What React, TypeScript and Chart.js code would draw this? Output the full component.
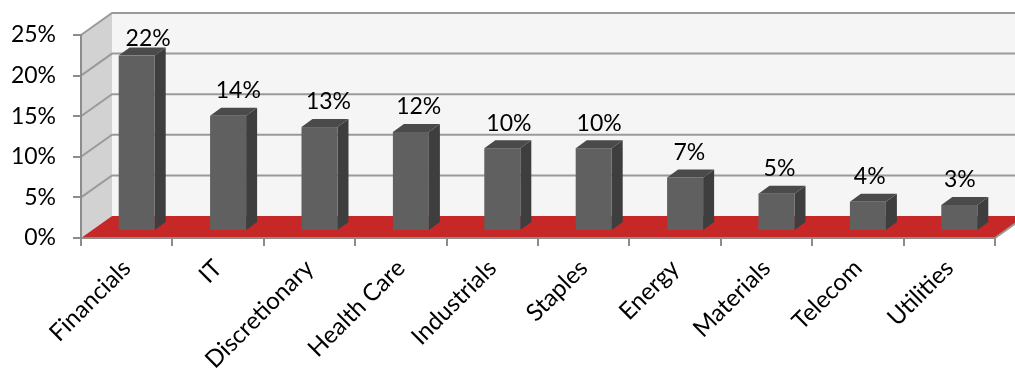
import React, { useEffect, useRef } from 'react';
import { Chart, registerables } from 'chart.js';

Chart.register(...registerables);

const categories = ['Financials', 'IT', 'Discretionary', 'Health Care', 'Industrials', 'Staples', 'Energy', 'Materials', 'Telecom', 'Utilities'];
const weights = [21.6, 14.2, 12.8, 12.2, 10.2, 10.2, 6.6, 4.6, 3.6, 3.2];
const yTicks = [0, 5, 10, 15, 20, 25];

const FONT = 'Lato, "Open Sans", sans-serif';
const DEPTH_X = 31;
const DEPTH_Y = -22;
const BAR_OFF_X = 10;
const BAR_OFF_Y = -7;
const BAR_DX = 11;
const BAR_DY = -8;

function poly(ctx: CanvasRenderingContext2D, pts: number[][], fill?: string) {
  ctx.beginPath();
  ctx.moveTo(pts[0][0], pts[0][1]);
  for (let i = 1; i < pts.length; i++) ctx.lineTo(pts[i][0], pts[i][1]);
  ctx.closePath();
  if (fill) {
    ctx.fillStyle = fill;
    ctx.fill();
  }
}

const wallsPlugin = {
  id: 'walls3d',
  beforeDraw(chart: any) {
    const { ctx, chartArea, scales } = chart;
    const ys = scales.y;
    const L = chartArea.left;
    const R = chartArea.right;
    const y0 = ys.getPixelForValue(yTicks[0]);
    const yMax = ys.getPixelForValue(yTicks[yTicks.length - 1]);
    ctx.save();
    // back wall
    ctx.fillStyle = '#f5f5f5';
    ctx.fillRect(L + DEPTH_X, yMax + DEPTH_Y, R - L, y0 - yMax);
    // side wall
    poly(ctx, [[L, y0], [L, yMax], [L + DEPTH_X, yMax + DEPTH_Y], [L + DEPTH_X, y0 + DEPTH_Y]], '#d2d2d2');
    // grid lines
    ctx.strokeStyle = '#9a9a9a';
    ctx.lineWidth = 2;
    yTicks.forEach((v) => {
      if (v === yTicks[0]) return;
      const yy = ys.getPixelForValue(v);
      ctx.beginPath();
      ctx.moveTo(L, yy);
      ctx.lineTo(L + DEPTH_X, yy + DEPTH_Y);
      ctx.lineTo(R + DEPTH_X, yy + DEPTH_Y);
      ctx.stroke();
    });
    // floor
    poly(ctx, [[L, y0], [L + DEPTH_X, y0 + DEPTH_Y], [R + DEPTH_X, y0 + DEPTH_Y], [R, y0]], '#c62828');
    ctx.beginPath();
    ctx.moveTo(R, y0);
    ctx.lineTo(R + DEPTH_X, y0 + DEPTH_Y);
    ctx.strokeStyle = '#9a9a9a';
    ctx.lineWidth = 2;
    ctx.stroke();
    ctx.restore();
  },
};

const barsPlugin = {
  id: 'bars3d',
  afterDatasetsDraw(chart: any) {
    const { ctx, chartArea } = chart;
    const meta = chart.getDatasetMeta(0);
    const ds = chart.data.datasets[0];
    ctx.save();
    meta.data.forEach((el: any, i: number) => {
      const p = el.getProps(['x', 'y', 'base', 'width'], true);
      const l = p.x - p.width / 2 + BAR_OFF_X;
      const r = p.x + p.width / 2 + BAR_OFF_X;
      const t = p.y + BAR_OFF_Y;
      const b = p.base + BAR_OFF_Y;
      poly(ctx, [[r, t], [r + BAR_DX, t + BAR_DY], [r + BAR_DX, b + BAR_DY], [r, b]], '#3e3e3e');
      poly(ctx, [[l, t], [r, t], [r + BAR_DX, t + BAR_DY], [l + BAR_DX, t + BAR_DY]], '#4a4a4a');
      ctx.fillStyle = '#606060';
      ctx.fillRect(l, t, r - l, b - t);
      // value label
      const frac = (p.x - chartArea.left) / (chartArea.right - chartArea.left);
      const lx = (l + r) / 2 + 12 * (1 - frac);
      const ly = Math.max(t - 25, chartArea.top + 4);
      ctx.fillStyle = '#000';
      ctx.font = `23px ${FONT}`;
      ctx.textAlign = 'center';
      ctx.textBaseline = 'middle';
      ctx.fillText(Math.round(ds.data[i]) + '%', lx, ly);
    });
    ctx.restore();
  },
};

export default function App() {
  const ref = useRef<HTMLCanvasElement>(null);
  useEffect(() => {
    if (!ref.current) return;
    const chart = new Chart(ref.current, {
      type: 'bar',
      data: {
        labels: categories,
        datasets: [
          {
            data: weights,
            backgroundColor: 'rgba(0,0,0,0)',
            borderWidth: 0,
            barPercentage: 0.394,
            categoryPercentage: 1,
          },
        ],
      },
      options: {
        responsive: false,
        animation: false,
        devicePixelRatio: 1,
        layout: { padding: { top: 35, right: 20, left: 0, bottom: 0 } },
        plugins: { legend: { display: false }, tooltip: { enabled: false } },
        scales: {
          x: {
            grid: { drawOnChartArea: false, tickLength: 8, color: '#8c8c8c', lineWidth: 2, offset: true },
            border: { color: '#8c8c8c', width: 2 },
            ticks: {
              font: { family: FONT, size: 24 },
              color: '#000',
              minRotation: 45,
              maxRotation: 45,
              autoSkip: false,
              padding: 8,
            },
            afterFit: (s: any) => {
              s.height = 135;
            },
          },
          y: {
            min: yTicks[0],
            max: yTicks[yTicks.length - 1],
            afterBuildTicks: (s: any) => {
              s.ticks = yTicks.map((v) => ({ value: v }));
            },
            ticks: {
              callback: (v: any) => v + '%',
              font: { family: FONT, size: 23 },
              color: '#000',
              padding: 17,
            },
            grid: { drawOnChartArea: false, tickLength: 8, color: '#8c8c8c', lineWidth: 2 },
            border: { color: '#8c8c8c', width: 2 },
            afterFit: (s: any) => {
              s.width = 81;
            },
          },
        },
      },
      plugins: [wallsPlugin, barsPlugin],
    });
    return () => chart.destroy();
  }, []);
  return (
    <div style={{ position: 'absolute', left: 0, top: 0, width: 1015, height: 373 }}>
      <canvas ref={ref} width={1015} height={373} />
    </div>
  );
}
